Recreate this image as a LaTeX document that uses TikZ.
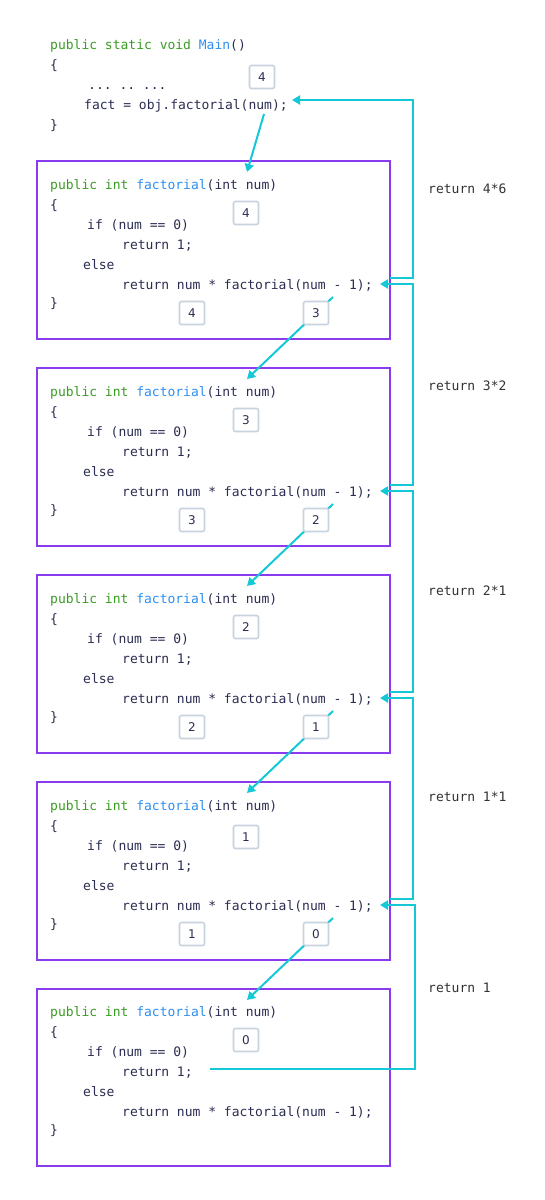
\documentclass[tikz,border=0pt]{standalone}
\usepackage{fontspec}
\setmonofont{DejaVu Sans Mono}
\setsansfont{DejaVu Sans}
\usepackage{tikz}
\usetikzlibrary{arrows.meta}
\definecolor{framepurple}{RGB}{137,59,237}
\definecolor{callteal}{RGB}{20,200,215}
\definecolor{kwgreen}{RGB}{58,157,35}
\definecolor{fnblue}{RGB}{45,143,240}
\definecolor{codenavy}{RGB}{43,45,82}
\definecolor{boxgrey}{RGB}{200,211,224}

\begin{document}
\begin{tikzpicture}[x=1pt,y=-1pt,
	code/.style={anchor=base west,inner sep=0pt,text=codenavy,font=\ttfamily\fontsize{13}{15}\selectfont},
	note/.style={code,text=black!80},
	numbox/.style={draw=boxgrey,line width=1.6pt,rounded corners=2pt,fill=white,minimum width=25pt,minimum height=23pt,inner sep=0pt,text=codenavy,font=\sffamily\fontsize{12}{14}\selectfont},
	frame/.style={draw=framepurple,line width=1.4pt},
	call/.style={draw=callteal,line width=2pt,-{Triangle[length=8pt,width=9pt]}}]
	\useasboundingbox[fill=white] (0,0) rectangle (545,1200);

	% Main
	\node[code] (mainsig) at (50,49) {\textcolor{kwgreen}{public static void} \textcolor{fnblue}{Main}()};
	\node[code] (mainopen) at (50,69) {\{};
	\node[code] (maindots) at (88,89) {... .. ...};
	\node[code] (maincall) at (84,109) {fact = obj.factorial(num);};
	\node[code] (mainclose) at (50,129) {\}};

	% frames
	\draw[frame] (37,161) rectangle (390,339);
	\draw[frame] (37,368) rectangle (390,546);
	\draw[frame] (37,575) rectangle (390,753);
	\draw[frame] (37,782) rectangle (390,960);
	\draw[frame] (37,989) rectangle (390,1166);

	% factorial(4)
	\node[code] (sig1) at (50,189) {\textcolor{kwgreen}{public int} \textcolor{fnblue}{factorial}(int num)};
	\node[code] (open1) at (50,209) {\{};
	\node[code] (if1) at (87,229) {if (num == 0)};
	\node[code] (one1) at (122,249) {return 1;};
	\node[code] (else1) at (83,269) {else};
	\node[code] (rec1) at (122,289) {return num * factorial(num - 1);};
	\node[code] (close1) at (50,307) {\}};

	% factorial(3)
	\node[code] (sig2) at (50,396) {\textcolor{kwgreen}{public int} \textcolor{fnblue}{factorial}(int num)};
	\node[code] (open2) at (50,416) {\{};
	\node[code] (if2) at (87,436) {if (num == 0)};
	\node[code] (one2) at (122,456) {return 1;};
	\node[code] (else2) at (83,476) {else};
	\node[code] (rec2) at (122,496) {return num * factorial(num - 1);};
	\node[code] (close2) at (50,514) {\}};

	% factorial(2)
	\node[code] (sig3) at (50,603) {\textcolor{kwgreen}{public int} \textcolor{fnblue}{factorial}(int num)};
	\node[code] (open3) at (50,623) {\{};
	\node[code] (if3) at (87,643) {if (num == 0)};
	\node[code] (one3) at (122,663) {return 1;};
	\node[code] (else3) at (83,683) {else};
	\node[code] (rec3) at (122,703) {return num * factorial(num - 1);};
	\node[code] (close3) at (50,721) {\}};

	% factorial(1)
	\node[code] (sig4) at (50,810) {\textcolor{kwgreen}{public int} \textcolor{fnblue}{factorial}(int num)};
	\node[code] (open4) at (50,830) {\{};
	\node[code] (if4) at (87,850) {if (num == 0)};
	\node[code] (one4) at (122,870) {return 1;};
	\node[code] (else4) at (83,890) {else};
	\node[code] (rec4) at (122,910) {return num * factorial(num - 1);};
	\node[code] (close4) at (50,928) {\}};

	% factorial(0)
	\node[code] (sig5) at (50,1016) {\textcolor{kwgreen}{public int} \textcolor{fnblue}{factorial}(int num)};
	\node[code] (open5) at (50,1036) {\{};
	\node[code] (if5) at (87,1056) {if (num == 0)};
	\node[code] (one5) at (122,1076) {return 1;};
	\node[code] (else5) at (83,1096) {else};
	\node[code] (rec5) at (122,1116) {return num * factorial(num - 1);};
	\node[code] (close5) at (50,1134) {\}};

	% calls going down
	\coordinate (callmain) at (264,114);
	\coordinate (call1) at (333,297);
	\coordinate (call2) at (333,504);
	\coordinate (call3) at (333,711);
	\coordinate (call4) at (333,918);
	\coordinate (enter1) at (247,172);
	\coordinate (enter2) at (247,379);
	\coordinate (enter3) at (247,586);
	\coordinate (enter4) at (247,793);
	\coordinate (enter5) at (247,1000);
	\draw[call] (callmain) -- (enter1);
	\draw[call] (call1) -- (enter2);
	\draw[call] (call2) -- (enter3);
	\draw[call] (call3) -- (enter4);
	\draw[call] (call4) -- (enter5);

	% returns going up
	\coordinate (backmain) at (292,100);
	\coordinate (back1) at (380,284);
	\coordinate (back2) at (380,491);
	\coordinate (back3) at (380,698);
	\coordinate (back4) at (380,905);
	\coordinate (up1) at (390,278);
	\coordinate (up2) at (390,485);
	\coordinate (up3) at (390,692);
	\coordinate (up4) at (390,899);
	\coordinate (up5) at (210,1069);
	\draw[call] (up1) -- ++(23,0) |- (backmain);
	\draw[call] (up2) -- ++(23,0) |- (back1);
	\draw[call] (up3) -- ++(23,0) |- (back2);
	\draw[call] (up4) -- ++(23,0) |- (back3);
	\draw[call] (up5) -- ++(205,0) |- (back4);

	\node[note] (ret1) at (428,193) {return 4*6};
	\node[note] (ret2) at (428,390) {return 3*2};
	\node[note] (ret3) at (428,595) {return 2*1};
	\node[note] (ret4) at (428,801) {return 1*1};
	\node[note] (ret5) at (428,992) {return 1};

	% values
	\node[numbox] (nmain) at (262,77) {4};
	\node[numbox] (n1) at (246,213) {4};
	\node[numbox] (n1a) at (192,313) {4};
	\node[numbox] (n1b) at (316,313) {3};
	\node[numbox] (n2) at (246,420) {3};
	\node[numbox] (n2a) at (192,520) {3};
	\node[numbox] (n2b) at (316,520) {2};
	\node[numbox] (n3) at (246,627) {2};
	\node[numbox] (n3a) at (192,727) {2};
	\node[numbox] (n3b) at (316,727) {1};
	\node[numbox] (n4) at (246,837) {1};
	\node[numbox] (n4a) at (192,934) {1};
	\node[numbox] (n4b) at (316,934) {0};
	\node[numbox] (n5) at (246,1040) {0};
\end{tikzpicture}
\end{document}
